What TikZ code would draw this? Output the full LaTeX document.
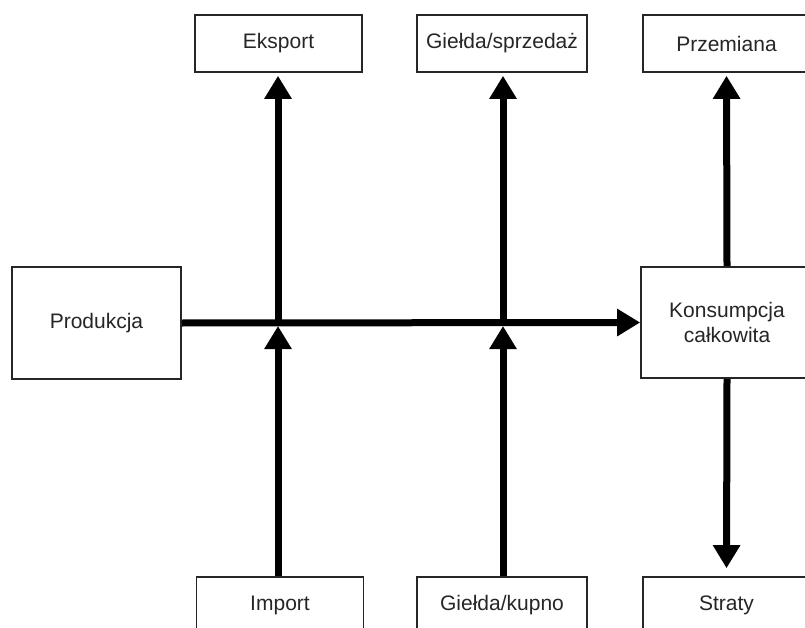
\documentclass[tikz,border=0pt]{standalone}
\usepackage{fontspec}
\setmainfont{Liberation Sans}
\usetikzlibrary{arrows.meta}
\begin{document}
\begin{tikzpicture}[x=1pt,y=-1pt,
  box/.style={draw=black!85,line width=1.6pt,fill=white,rectangle,inner sep=0pt,
    text=black!85,font=\fontsize{21}{25}\selectfont,align=center},
  flow/.style={line width=7pt,black,-{Triangle[length=23pt,width=26pt]}}]
  \useasboundingbox (0,0) rectangle (805,628);
  \begin{scope}
  \clip (0,0) rectangle (805,628);
  % top row
  \node[box,minimum width=167pt,minimum height=57pt] (eks) at (278.5,43.5) {Eksport};
  \node[box,minimum width=170pt,minimum height=57pt] (gsp) at (502,43.5) {Giełda/sprzedaż};
  \node[box,minimum width=167pt,minimum height=57pt] (prz) at (726.5,43.5) {Przemiana};
  % middle row
  \node[box,minimum width=169pt,minimum height=112pt] (prod) at (96.5,323) {Produkcja};
  \node[box,minimum width=172pt,minimum height=111pt] (kons) at (727,322.5) {Konsumpcja\\całkowita};
  % bottom row
  \node[box,minimum width=167pt,minimum height=57pt] (imp) at (280,605.5) {Import};
  \node[box,minimum width=170pt,minimum height=57pt] (gkup) at (502,605.5) {Giełda/kupno};
  \node[box,minimum width=167pt,minimum height=57pt] (str) at (726.5,605.5) {Straty};
  % junctions on the main line
  \coordinate (j1) at (278,322.5);
  \coordinate (j2) at (503,322.5);
  % connectors
  \draw[flow] (prod.east) -- (kons.west);
  \draw[flow,shorten >=3pt] (j1) -- (j1 |- eks.south);
  \draw[flow,shorten >=3pt] (j2) -- (j2 |- gsp.south);
  \draw[flow,shorten >=3pt] (kons.north) -- (prz.south);
  \draw[flow,shorten >=3.5pt] (j1 |- imp.north) -- (j1);
  \draw[flow,shorten >=3.5pt] (j2 |- gkup.north) -- (j2);
  \draw[flow,shorten >=8pt] (kons.south) -- (str.north);
  \end{scope}
\end{tikzpicture}
\end{document}
